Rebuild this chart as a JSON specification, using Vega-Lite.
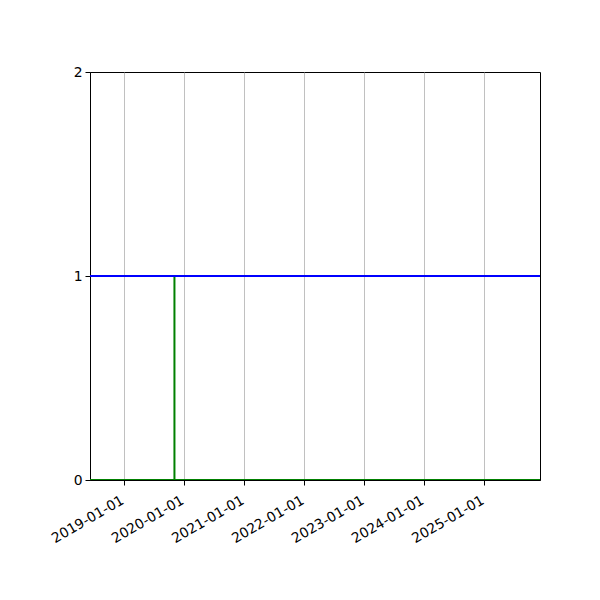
{
  "$schema": "https://vega.github.io/schema/vega-lite/v6.json",
  "autosize": "none",
  "width": 450,
  "height": 408,
  "padding": {"left": 90, "top": 72, "right": 60, "bottom": 120},
  "background": "white",
  "config": {
    "view": {"stroke": "black", "strokeWidth": 1},
    "axis": {
      "labelFont": "DejaVu Sans",
      "labelFontSize": 13.9,
      "labelColor": "black",
      "domainColor": "black",
      "tickColor": "black",
      "tickSize": 5,
      "labelPadding": 4,
      "title": null
    }
  },
  "data": {
    "values": [
      {"date": "2018-05-01", "value": 0, "series": "green", "idx": 0},
      {"date": "2019-11-04", "value": 0, "series": "green", "idx": 1},
      {"date": "2019-11-04", "value": 1, "series": "green", "idx": 2},
      {"date": "2019-11-04", "value": 0, "series": "green", "idx": 3},
      {"date": "2026-02-01", "value": 0, "series": "green", "idx": 4},
      {"date": "2018-05-01", "value": 1, "series": "blue", "idx": 0},
      {"date": "2026-02-01", "value": 1, "series": "blue", "idx": 1}
    ]
  },
  "encoding": {
    "x": {
      "field": "date",
      "type": "temporal",
      "scale": {
        "type": "utc",
        "domain": [
          {"year": 2018, "month": 6, "date": 8, "utc": true},
          {"year": 2025, "month": 12, "date": 7, "utc": true}
        ]
      },
      "axis": {
        "grid": true,
        "gridColor": "#b0b0b0",
        "gridWidth": 0.8,
        "values": [
          {"year": 2019, "month": 1, "date": 1, "utc": true},
          {"year": 2020, "month": 1, "date": 1, "utc": true},
          {"year": 2021, "month": 1, "date": 1, "utc": true},
          {"year": 2022, "month": 1, "date": 1, "utc": true},
          {"year": 2023, "month": 1, "date": 1, "utc": true},
          {"year": 2024, "month": 1, "date": 1, "utc": true},
          {"year": 2025, "month": 1, "date": 1, "utc": true}
        ],
        "labelExpr": "utcFormat(datum.value, '%Y-%m-%d')",
        "labelAngle": -30,
        "labelAlign": "right",
        "labelBaseline": "top",
        "labelOffset": -5,
        "labelPadding": 8,
        "labelFlush": false,
        "labelOverlap": false
      }
    },
    "y": {
      "field": "value",
      "type": "quantitative",
      "scale": {"domain": [0, 2], "nice": false, "zero": false},
      "axis": {
        "grid": false,
        "values": [0, 1, 2],
        "labelExpr": "format(datum.value, 'd')",
        "labelOverlap": false,
        "labelPadding": 3
      }
    },
    "order": {"field": "idx", "type": "quantitative"}
  },
  "layer": [
    {
      "transform": [{"filter": "datum.series === 'green'"}],
      "mark": {"type": "line", "color": "#008000", "strokeWidth": 2, "clip": true}
    },
    {
      "transform": [{"filter": "datum.series === 'blue'"}],
      "mark": {"type": "line", "color": "#0000ff", "strokeWidth": 2, "clip": true}
    }
  ]
}
